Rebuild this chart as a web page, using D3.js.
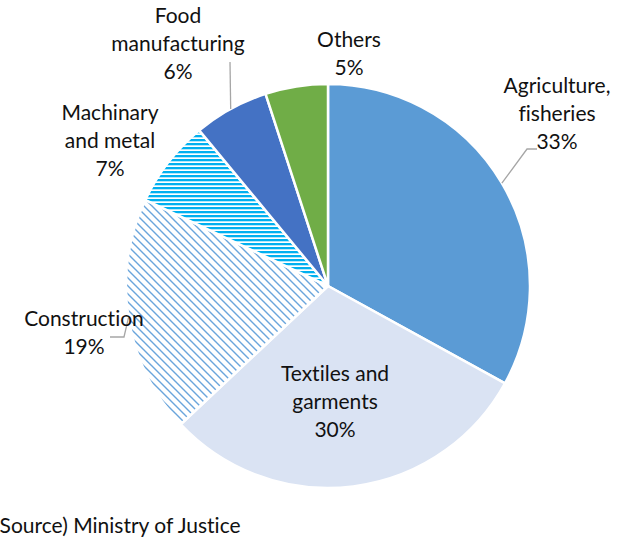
<!DOCTYPE html>
<html>
<head>
<meta charset="utf-8">
<script src="https://cdn.jsdelivr.net/npm/d3@7"></script>
<style>
  html, body { margin: 0; padding: 0; background: #fff; }
  svg { display: block; }
  text { font-family: Lato, "Open Sans", sans-serif; fill: #111; font-variant-ligatures: none; }
</style>
</head>
<body>
<svg id="chart" width="636" height="541"></svg>
<script>
// Share of workers by industry
const categories = ["Agriculture, fisheries", "Textiles and garments", "Construction",
                    "Machinary and metal", "Food manufacturing", "Others"];
const labelLines = [["Agriculture,", "fisheries"], ["Textiles and", "garments"], ["Construction"],
                    ["Machinary", "and metal"], ["Food", "manufacturing"], ["Others"]];
const values = [33, 30, 19, 7, 6, 5];
const sourceNote = "(Source) Ministry of Justice";

// fills: plain colours or pattern ids
const fills = ["#5B9BD5", "#DAE3F3", "url(#diagHatch)", "url(#horizHatch)", "#4472C4", "#70AD47"];

// label placement: centre x and first baseline y, plus optional leader elbow/end
const labelLayout = [
  { x: 557, y: 93,  leader: [[527, 149], [537, 149]] },
  { x: 335, y: 381 },
  { x: 84,  y: 326, leader: [[124, 337], [110, 337]] },
  { x: 110, y: 120 },
  { x: 178, y: 23,  leader: [[230, 62]] },
  { x: 349, y: 47 }
];

const width = 636, height = 541;
const cx = 328, cy = 286, radius = 202;
const fontSize = 21, lineHeight = 28;

const svg = d3.select("#chart");
const defs = svg.append("defs");

const diag = defs.append("pattern")
  .attr("id", "diagHatch").attr("patternUnits", "userSpaceOnUse")
  .attr("width", 8).attr("height", 8);
diag.append("rect").attr("width", 8).attr("height", 8).attr("fill", "#fff");
diag.append("path").attr("d", "M-2,-2L10,10M-2,6L2,10M6,-2L10,2")
  .attr("stroke", "#6AA5DC").attr("stroke-width", 1.4);

const horiz = defs.append("pattern")
  .attr("id", "horizHatch").attr("patternUnits", "userSpaceOnUse")
  .attr("width", 8).attr("height", 4);
horiz.append("rect").attr("width", 8).attr("height", 4).attr("fill", "#fff");
horiz.append("rect").attr("y", 1).attr("width", 8).attr("height", 2.3).attr("fill", "#00B0F0");

const pie = d3.pie().value(d => d).sort(null);
const arcs = pie(values);
const arc = d3.arc().innerRadius(0).outerRadius(radius);

const g = svg.append("g").attr("transform", `translate(${cx},${cy})`);

g.selectAll("path.slice")
  .data(arcs)
  .join("path")
  .attr("class", "slice")
  .attr("d", arc)
  .attr("fill", (d, i) => fills[i])
  .attr("stroke", "#fff")
  .attr("stroke-width", 2.5)
  .attr("stroke-linejoin", "round");

// leader lines from the outer edge at each slice's mid-angle
const edge = d3.arc().innerRadius(radius).outerRadius(radius);
arcs.forEach((d, i) => {
  const lay = labelLayout[i];
  if (!lay.leader) return;
  const [ex, ey] = edge.centroid(d);
  const pts = [[cx + ex, cy + ey], ...lay.leader];
  svg.append("path")
    .attr("d", d3.line()(pts))
    .attr("fill", "none")
    .attr("stroke", "#A6A6A6")
    .attr("stroke-width", 1.3);
});

// labels: category name lines followed by the percentage
arcs.forEach((d, i) => {
  const lay = labelLayout[i];
  const lines = [...labelLines[i], `${values[i]}%`];
  const t = svg.append("text")
    .attr("text-anchor", "middle")
    .attr("font-size", fontSize);
  lines.forEach((ln, j) => {
    t.append("tspan").attr("x", lay.x).attr("y", lay.y + j * lineHeight).text(ln);
  });
});

svg.append("text")
  .attr("x", -6).attr("y", 533)
  .attr("font-size", fontSize)
  .text(sourceNote);
</script>
</body>
</html>
